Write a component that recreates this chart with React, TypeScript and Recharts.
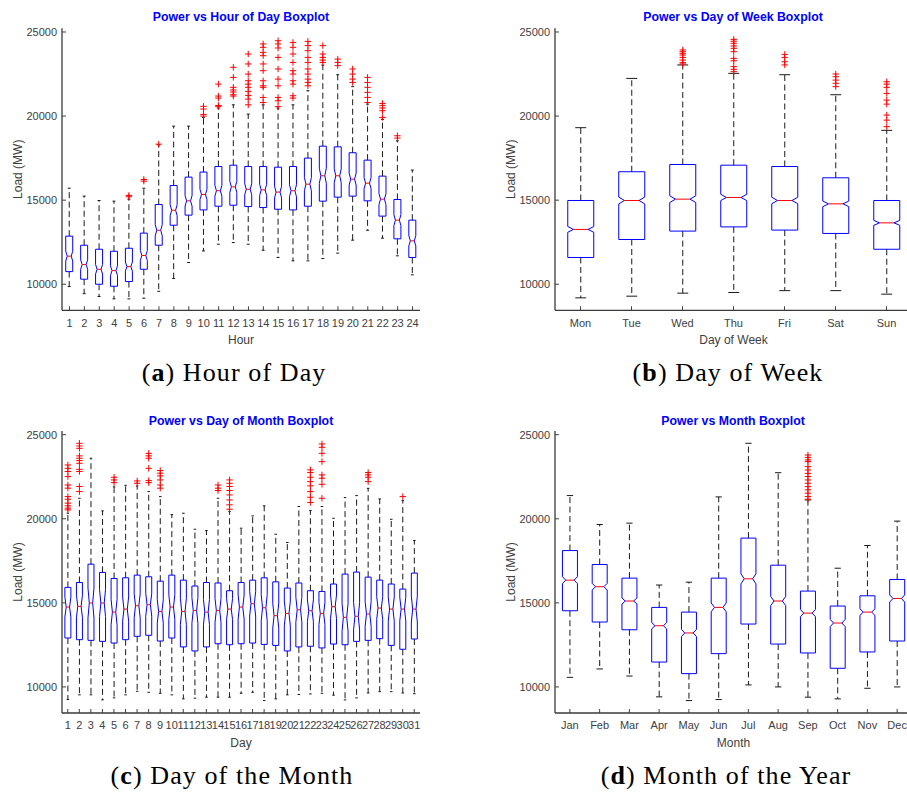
import React from 'react';
import { ComposedChart, Bar, XAxis, YAxis } from 'recharts';

const FONT = '"Liberation Sans", Arial, Helvetica, sans-serif';
const SERIF = '"Liberation Serif", "Times New Roman", serif';
const Y_DOMAIN: [number, number] = [8450, 25220];
const Y_TICKS = [10000, 15000, 20000, 25000];

// ---- Hour of day ----
const hourLabels = ['1', '2', '3', '4', '5', '6', '7', '8', '9', '10', '11', '12', '13', '14', '15', '16', '17', '18', '19', '20', '21', '22', '23', '24'];
const hourLow = [9860, 9440, 9270, 9130, 9130, 9170, 9580, 10340, 11290, 11980, 12380, 12480, 12380, 12020, 11590, 11390, 11390, 11530, 11850, 12620, 13210, 12740, 11690, 10560];
const hourQ1 = [10750, 10300, 10000, 9880, 10160, 10890, 12320, 13510, 14110, 14420, 14640, 14700, 14620, 14560, 14460, 14420, 14640, 14940, 15180, 15240, 14960, 14050, 12700, 11590];
const hourMedian = [11670, 11170, 10890, 10810, 11050, 11710, 13210, 14400, 14960, 15340, 15560, 15790, 15650, 15610, 15480, 15560, 15950, 16450, 16450, 16250, 16010, 15060, 13810, 12580];
const hourQ3 = [12860, 12320, 12080, 11960, 12140, 13040, 14740, 15870, 16370, 16670, 17000, 17080, 17000, 17000, 16960, 17000, 17500, 18210, 18170, 17820, 17380, 16430, 15040, 13810];
const hourHigh = [15710, 15240, 14980, 14940, 15060, 15710, 18290, 19400, 19400, 19920, 20480, 20670, 20120, 20670, 20480, 20670, 21510, 23030, 22460, 21750, 20710, 19800, 18530, 16790];
const hourOutliers = [
  [], [], [], [], [15200, 15280], [16130, 16230], [18330], [], [],
  [20000, 20100, 20420, 20580],
  [20560, 20630, 21070, 21190, 21900],
  [21190, 21270, 21430, 21550, 21710, 22300, 22900],
  [20670, 21010, 21230, 21470, 21710, 21900, 22100, 22500, 23100, 23690],
  [20810, 21110, 21710, 21800, 22100, 22700, 23100, 23590, 23790, 24090, 24290],
  [20560, 20910, 21110, 21800, 22200, 22800, 23490, 24050, 24290, 24480],
  [21070, 21210, 21900, 22100, 22500, 22700, 23190, 23690, 24090, 24380],
  [21800, 22000, 22200, 22500, 22800, 23190, 23490, 23890, 24190, 24440],
  [23190, 23330, 23490, 23690, 24190],
  [23000, 23190, 23390],
  [22000, 22200, 22500, 22800],
  [20810, 21110, 21410, 21710, 22000, 22300],
  [19920, 20320, 20480, 20620, 20750],
  [18690, 18830],
  [],
];

// ---- Day of week ----
const weekLabels = ['Mon', 'Tue', 'Wed', 'Thu', 'Fri', 'Sat', 'Sun'];
const weekLow = [9190, 9290, 9470, 9510, 9620, 9620, 9410];
const weekQ1 = [11590, 12660, 13160, 13410, 13220, 13020, 12080];
const weekMedian = [13260, 14980, 15060, 15160, 14980, 14780, 13650];
const weekQ3 = [14980, 16690, 17120, 17080, 17000, 16330, 14980];
const weekHigh = [19310, 22240, 23040, 22540, 22460, 21270, 19150];
const weekOutliers = [
  [], [],
  [23100, 23180, 23330, 23490, 23630, 23730, 23830, 23930],
  [22640, 22780, 22940, 23290, 23430, 23830, 24030, 24170, 24330, 24450, 24560],
  [23040, 23230, 23490, 23670],
  [21750, 21950, 22140, 22340, 22500],
  [19370, 19760, 20060, 20710, 20950, 21350, 21710, 21900, 22040],
];

// ---- Day of month ----
const dayLabels = ['1', '2', '3', '4', '5', '6', '7', '8', '9', '10', '11', '12', '13', '14', '15', '16', '17', '18', '19', '20', '21', '22', '23', '24', '25', '26', '27', '28', '29', '30', '31'];
const dayLow = [9250, 9530, 9530, 9230, 9350, 9530, 9740, 9680, 9620, 9530, 9290, 9330, 9390, 9390, 9390, 9620, 9680, 9190, 9290, 9530, 9550, 9580, 9620, 9510, 9230, 9350, 9640, 9720, 9720, 9640, 9600];
const dayQ1 = [12910, 12810, 12770, 12710, 12610, 12810, 13010, 13070, 12730, 12910, 12380, 12140, 12380, 12570, 12510, 12570, 12610, 12530, 12470, 12140, 12380, 12420, 12320, 12550, 12510, 12710, 12770, 12870, 12470, 12240, 12850];
const dayMedian = [14750, 14790, 14990, 14990, 14450, 14630, 14830, 14890, 14490, 14750, 14490, 14550, 14450, 14550, 14630, 14750, 14950, 14710, 14240, 14370, 14590, 14530, 14370, 14770, 14140, 14200, 14340, 14690, 14630, 14630, 14630];
const dayQ3 = [15920, 16210, 17300, 16810, 16450, 16490, 16650, 16550, 16290, 16650, 16350, 16000, 16210, 16180, 15720, 16210, 16350, 16490, 16250, 15880, 16180, 15720, 15680, 16120, 16710, 16830, 16530, 16350, 16120, 15820, 16770];
const dayHigh = [20330, 21220, 23600, 20470, 21900, 21990, 21950, 21620, 21320, 20250, 20330, 19380, 19300, 21220, 20430, 19440, 20170, 20770, 19080, 18590, 20730, 20490, 20730, 20030, 21260, 21380, 21810, 21180, 19970, 21080, 18710];
const dayOutliers = [
  [20530, 20630, 20770, 20930, 21160, 21320, 21820, 22010, 22510, 22810, 23000, 23200],
  [21620, 21920, 22810, 22940, 23300, 23460, 23600, 23740, 24190, 24330, 24490],
  [], [],
  [22150, 22310, 22470],
  [],
  [22110, 22250],
  [22150, 22270, 23000, 23600, 23740, 23890],
  [21820, 22010, 22310, 22550, 22710, 22870],
  [], [], [], [],
  [21680, 21820, 22010],
  [20570, 20830, 21120, 21420, 21680, 21920, 22110, 22310],
  [], [], [], [], [], [],
  [20970, 21280, 21620, 21960, 22210, 22470, 22750, 22910],
  [21220, 22050, 22410, 22610, 23400, 23890, 24250, 24450],
  [], [], [],
  [22210, 22470, 22610, 22750],
  [], [],
  [21320],
  [],
];

// ---- Month ----
const monthLabels = ['Jan', 'Feb', 'Mar', 'Apr', 'May', 'Jun', 'Jul', 'Aug', 'Sep', 'Oct', 'Nov', 'Dec'];
const monthLow = [10570, 11070, 10650, 9410, 9190, 9250, 10120, 10000, 9390, 9290, 9920, 10000];
const monthQ1 = [14530, 13860, 13400, 11480, 10790, 11980, 13740, 12550, 12020, 11110, 12080, 12730];
const monthMedian = [16350, 15960, 15110, 13640, 13210, 14730, 16430, 15110, 14390, 13800, 14450, 15260];
const monthQ3 = [18110, 17280, 16470, 14730, 14450, 16470, 18850, 17240, 15700, 14810, 15420, 16390];
const monthHigh = [21380, 19660, 19740, 16060, 16230, 21300, 24490, 22740, 21120, 17060, 18410, 19860];
const monthOutliers = [
  [], [], [], [], [], [], [], [],
  [21160, 21320, 21520, 21720, 21910, 22110, 22310, 22510, 22700, 22900, 23100, 23400, 23500, 23650, 23790],
  [], [], [],
];

// approximate sample counts per group (drive the notch size)
const HOUR_N = 130;
const WEEK_N = 960;
const DAY_N = 64;
const MONTH_N = 730;

type Row = { name: string; lo: number; q1: number; med: number; q3: number; hi: number; out: number[] };

const buildRows = (labels: string[], lo: number[], q1: number[], med: number[], q3: number[], hi: number[], out: number[][]): Row[] =>
  labels.map((name, i) => ({ name, lo: lo[i], q1: q1[i], med: med[i], q3: q3[i], hi: hi[i], out: out[i] }));

const hourRows = buildRows(hourLabels, hourLow, hourQ1, hourMedian, hourQ3, hourHigh, hourOutliers);
const weekRows = buildRows(weekLabels, weekLow, weekQ1, weekMedian, weekQ3, weekHigh, weekOutliers);
const dayRows = buildRows(dayLabels, dayLow, dayQ1, dayMedian, dayQ3, dayHigh, dayOutliers);
const monthRows = buildRows(monthLabels, monthLow, monthQ1, monthMedian, monthQ3, monthHigh, monthOutliers);

const makeBox = (n: number) => (props: any) => {
  const { x, y, width, height, payload: d } = props;
  if (!d || width == null) return null;
  const yTop = Math.min(y, y + height);
  const yBot = Math.max(y, y + height);
  const toPx = (v: number) => yBot - ((v - d.lo) / (d.hi - d.lo)) * (yBot - yTop);
  const cx = x + width / 2;
  const l = x;
  const r = x + width;
  const inset = width * 0.22;
  const nh = (1.57 * (d.q3 - d.q1)) / Math.sqrt(n);
  const nTop = Math.min(d.med + nh, d.q3);
  const nBot = Math.max(d.med - nh, d.q1);
  const cap = width * 0.21;
  const path = `M${l},${toPx(d.q3)} H${r} V${toPx(nTop)} L${r - inset},${toPx(d.med)} L${r},${toPx(nBot)} V${toPx(d.q1)} H${l} V${toPx(nBot)} L${l + inset},${toPx(d.med)} L${l},${toPx(nTop)} Z`;
  return (
    <g>
      <line x1={cx} x2={cx} y1={toPx(d.q3)} y2={toPx(d.hi)} stroke="#1a1a1a" strokeDasharray="6 3.5" />
      <line x1={cx} x2={cx} y1={toPx(d.q1)} y2={toPx(d.lo)} stroke="#1a1a1a" strokeDasharray="6 3.5" />
      <line x1={cx - cap} x2={cx + cap} y1={toPx(d.hi)} y2={toPx(d.hi)} stroke="#1a1a1a" />
      <line x1={cx - cap} x2={cx + cap} y1={toPx(d.lo)} y2={toPx(d.lo)} stroke="#1a1a1a" />
      <path d={path} fill="none" stroke="#0000ff" />
      <line x1={l + inset} x2={r - inset} y1={toPx(d.med)} y2={toPx(d.med)} stroke="#ff0000" />
      {d.out.map((v: number, i: number) => (
        <g key={i}>
          <line x1={cx - 3.2} x2={cx + 3.2} y1={toPx(v)} y2={toPx(v)} stroke="#ff0000" />
          <line x1={cx} x2={cx} y1={toPx(v) - 3.2} y2={toPx(v) + 3.2} stroke="#ff0000" />
        </g>
      ))}
    </g>
  );
};

const LABEL_FILL = '#404040';

const LeftTick = ({ x, y, payload }: any) => (
  <g>
    <line x1={x + 5} x2={x + 9} y1={y} y2={y} stroke="#404040" />
    <text x={x} y={y} dy="0.355em" textAnchor="end" fontSize={11} fontFamily={FONT} fill={LABEL_FILL}>
      {payload.value}
    </text>
  </g>
);

const RightTick = ({ x, y }: any) => <line x1={x} x2={x - 4} y1={y} y2={y} stroke="#404040" />;

const BottomTick = ({ x, y, payload }: any) => (
  <g>
    <line x1={x} x2={x} y1={y - 8.5} y2={y - 12.5} stroke="#404040" />
    <text x={x} y={y} dy="0.71em" textAnchor="middle" fontSize={11} fontFamily={FONT} fill={LABEL_FILL}>
      {payload.value}
    </text>
  </g>
);

const TopTick = ({ x, y }: any) => <line x1={x} x2={x} y1={y} y2={y + 4} stroke="#404040" />;

interface PanelProps {
  left: number;
  top: number;
  width: number;
  height: number;
  marginTop: number;
  rows: Row[];
  n: number;
  xLabel: string;
}

const Panel: React.FC<PanelProps> = ({ left, top, width, height, marginTop, rows, n, xLabel }) => (
  <div style={{ position: 'absolute', left, top }}>
    <ComposedChart
      width={width}
      height={height}
      data={rows}
      margin={{ top: marginTop, right: 20, bottom: height - marginTop - 282 - 50, left: 0 }}
      barCategoryGap="25%"
    >
      <XAxis
        xAxisId="b"
        dataKey="name"
        interval={0}
        tickSize={0}
        tickMargin={8.5}
        tick={BottomTick}
        height={50}
        axisLine={{ stroke: '#3a3a3a', strokeWidth: 1.3 }}
        label={{ value: xLabel, position: 'insideBottom', offset: 16, style: { fontSize: 12, fill: LABEL_FILL, fontFamily: FONT } }}
      />
      <XAxis
        xAxisId="t"
        orientation="top"
        dataKey="name"
        interval={0}
        tickSize={0}
        tickMargin={0}
        tick={TopTick}
        height={0}
        axisLine={{ stroke: '#8c8c8c', strokeWidth: 2 }}
      />
      <YAxis
        yAxisId="l"
        type="number"
        domain={Y_DOMAIN}
        ticks={Y_TICKS}
        allowDataOverflow
        width={62}
        tickSize={0}
        tickMargin={5}
        tick={LeftTick}
        axisLine={{ stroke: '#3a3a3a', strokeWidth: 1.3 }}
        label={{ value: 'Load (MW)', angle: -90, position: 'insideLeft', offset: 18, style: { textAnchor: 'middle', fontSize: 12, fill: LABEL_FILL, fontFamily: FONT } }}
      />
      <YAxis
        yAxisId="r"
        orientation="right"
        type="number"
        domain={Y_DOMAIN}
        ticks={Y_TICKS}
        allowDataOverflow
        width={0}
        tickSize={0}
        tickMargin={0}
        tick={RightTick}
        axisLine={{ stroke: '#8c8c8c', strokeWidth: 2 }}
      />
      <Bar
        xAxisId="b"
        yAxisId="l"
        dataKey={(d: Row) => [d.lo, d.hi]}
        shape={makeBox(n)}
        isAnimationActive={false}
      />
    </ComposedChart>
  </div>
);

const titleStyle = { fontFamily: FONT, fontWeight: 'bold' as const, fontSize: 12.3, fill: '#0000ff' };
const captionStyle = { fontFamily: SERIF, fontSize: 26, letterSpacing: 1.1, fill: '#000' };

export default function App() {
  return (
    <div style={{ position: 'absolute', left: 0, top: 0, width: 907, height: 792, overflow: 'hidden', background: '#fff' }}>
      <Panel left={0} top={0} width={440} height={361} marginTop={28.3} rows={hourRows} n={HOUR_N} xLabel="Hour" />
      <Panel left={492.5} top={0} width={439} height={361} marginTop={28.3} rows={weekRows} n={WEEK_N} xLabel="Day of Week" />
      <Panel left={0} top={400} width={440} height={363} marginTop={31} rows={dayRows} n={DAY_N} xLabel="Day" />
      <Panel left={492.5} top={400} width={439} height={363} marginTop={31} rows={monthRows} n={MONTH_N} xLabel="Month" />
      <svg width={907} height={792} style={{ position: 'absolute', left: 0, top: 0, pointerEvents: 'none' }}>
        <text x={241} y={21} textAnchor="middle" style={titleStyle}>Power vs Hour of Day Boxplot</text>
        <text x={733} y={21} textAnchor="middle" style={titleStyle}>Power vs Day of Week Boxplot</text>
        <text x={241} y={424.5} textAnchor="middle" style={titleStyle}>Power vs Day of Month Boxplot</text>
        <text x={733} y={424.5} textAnchor="middle" style={titleStyle}>Power vs Month Boxplot</text>
        <text x={234} y={381} textAnchor="middle" style={captionStyle}>(<tspan fontWeight="bold">a</tspan>) Hour of Day</text>
        <text x={728} y={381} textAnchor="middle" style={captionStyle}>(<tspan fontWeight="bold">b</tspan>) Day of Week</text>
        <text x={232} y={784} textAnchor="middle" style={captionStyle}>(<tspan fontWeight="bold">c</tspan>) Day of the Month</text>
        <text x={726} y={784} textAnchor="middle" style={captionStyle}>(<tspan fontWeight="bold">d</tspan>) Month of the Year</text>
      </svg>
    </div>
  );
}
